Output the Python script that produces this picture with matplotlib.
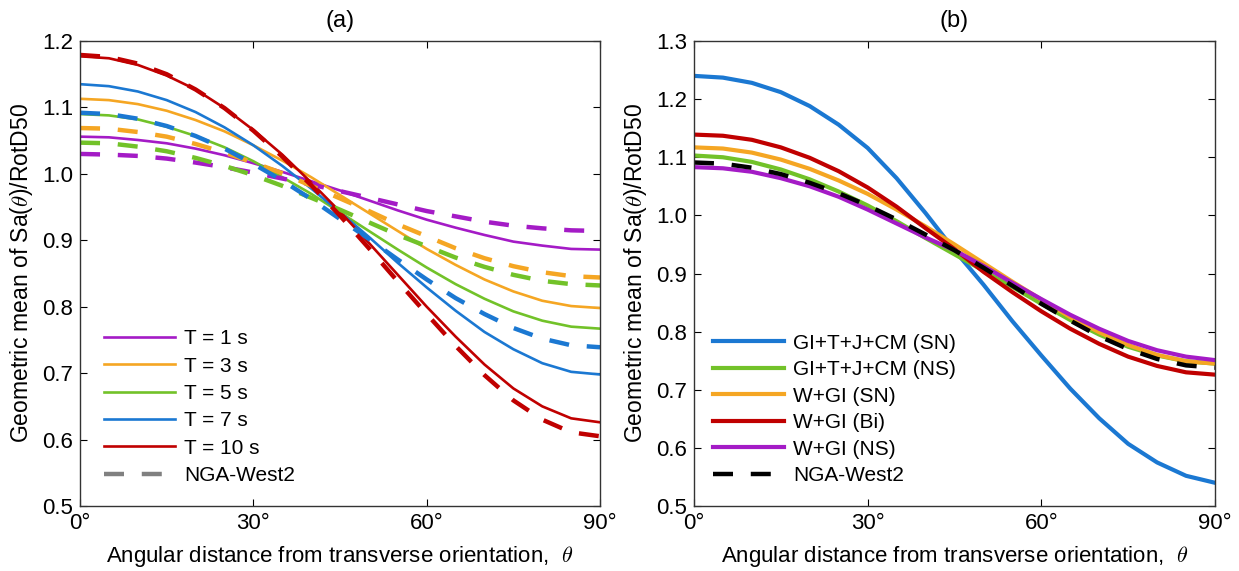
import numpy as np
import matplotlib.pyplot as plt

plt.rcParams['font.family'] = ['Liberation Sans', 'DejaVu Sans']
plt.rcParams['mathtext.fontset'] = 'cm'

theta = [0, 5, 10, 15, 20, 25, 30, 35, 40, 45, 50, 55, 60, 65, 70, 75, 80, 85, 90]

# panel (a): simulated (solid) and NGA-West2 (dashed) per period
periods = ['T = 1 s', 'T = 3 s', 'T = 5 s', 'T = 7 s', 'T = 10 s']
sim_T1 = [1.056, 1.055, 1.051, 1.046, 1.038, 1.028, 1.016, 1.003, 0.989, 0.975, 0.960, 0.945,
          0.931, 0.919, 0.908, 0.898, 0.892, 0.887, 0.886]
sim_T3 = [1.113, 1.111, 1.105, 1.095, 1.081, 1.064, 1.043, 1.020, 0.995, 0.968, 0.941, 0.914,
          0.887, 0.863, 0.841, 0.823, 0.809, 0.801, 0.798]
sim_T5 = [1.090, 1.088, 1.082, 1.071, 1.057, 1.040, 1.019, 0.995, 0.970, 0.942, 0.914, 0.886,
          0.859, 0.834, 0.812, 0.793, 0.779, 0.770, 0.767]
sim_T7 = [1.135, 1.132, 1.124, 1.111, 1.093, 1.070, 1.043, 1.012, 0.978, 0.942, 0.905, 0.866,
          0.829, 0.794, 0.762, 0.736, 0.715, 0.702, 0.698]
sim_T10 = [1.177, 1.174, 1.164, 1.148, 1.127, 1.099, 1.066, 1.029, 0.987, 0.943, 0.896, 0.848,
           0.800, 0.755, 0.713, 0.677, 0.650, 0.632, 0.626]
nga_T1 = [1.030, 1.029, 1.027, 1.023, 1.017, 1.010, 1.002, 0.993, 0.984, 0.974, 0.964, 0.954,
          0.944, 0.936, 0.928, 0.922, 0.918, 0.915, 0.914]
nga_T3 = [1.069, 1.068, 1.063, 1.056, 1.045, 1.032, 1.017, 1.001, 0.982, 0.963, 0.944, 0.924,
          0.906, 0.888, 0.873, 0.861, 0.852, 0.846, 0.844]
nga_T5 = [1.047, 1.046, 1.041, 1.034, 1.024, 1.012, 0.998, 0.982, 0.964, 0.946, 0.927, 0.908,
          0.891, 0.874, 0.860, 0.848, 0.839, 0.834, 0.832]
nga_T7 = [1.092, 1.090, 1.083, 1.072, 1.057, 1.038, 1.015, 0.990, 0.962, 0.932, 0.902, 0.871,
          0.841, 0.813, 0.789, 0.768, 0.752, 0.742, 0.739]
nga_T10 = [1.179, 1.176, 1.166, 1.150, 1.127, 1.099, 1.065, 1.026, 0.983, 0.937, 0.888, 0.838,
           0.789, 0.741, 0.697, 0.659, 0.630, 0.611, 0.605]

# panel (b): rupture scenarios
scen_names = ['GI+T+J+CM (SN)', 'GI+T+J+CM (NS)', 'W+GI (SN)', 'W+GI (Bi)', 'W+GI (NS)']
gitjcm_sn = [1.240, 1.237, 1.228, 1.212, 1.188, 1.156, 1.116, 1.064, 1.004, 0.940, 0.881, 0.818,
             0.759, 0.702, 0.651, 0.607, 0.575, 0.552, 0.540]
gitjcm_ns = [1.103, 1.100, 1.092, 1.079, 1.062, 1.041, 1.017, 0.990, 0.961, 0.933, 0.905, 0.877,
             0.848, 0.820, 0.795, 0.774, 0.759, 0.749, 0.745]
wgi_sn = [1.117, 1.115, 1.108, 1.096, 1.080, 1.060, 1.037, 1.010, 0.981, 0.950, 0.918, 0.886,
          0.855, 0.825, 0.799, 0.777, 0.760, 0.749, 0.745]
wgi_bi = [1.139, 1.137, 1.130, 1.117, 1.099, 1.076, 1.048, 1.015, 0.978, 0.942, 0.903, 0.868,
          0.835, 0.805, 0.779, 0.757, 0.741, 0.730, 0.726]
wgi_ns = [1.083, 1.081, 1.075, 1.064, 1.050, 1.032, 1.010, 0.986, 0.962, 0.940, 0.913, 0.884,
          0.856, 0.829, 0.805, 0.784, 0.768, 0.757, 0.751]
nga_b = [1.091, 1.089, 1.082, 1.071, 1.056, 1.038, 1.017, 0.993, 0.967, 0.940, 0.910, 0.879,
         0.848, 0.819, 0.792, 0.770, 0.753, 0.742, 0.738]

colors = ['#A41BC6', '#F5A623', '#72C229', '#1B78D2', '#C00000']
scen_colors = ['#1B78D2', '#72C229', '#F5A623', '#C00000', '#A41BC6']

ylab = r'Geometric mean of Sa($\theta$)/RotD50'
xlab = r'Angular distance from transverse orientation,  $\theta$'
dash = (0, (4.5, 4.0))


def styleAxis(ax, ylim, yticks):
    ax.set_xlim(0, 90)
    ax.set_ylim(*ylim)
    ax.set_xticks([0, 30, 60, 90])
    ax.set_xticklabels(['0°', '30°', '60°', '90°'])
    ax.set_yticks(yticks)
    ax.set_yticklabels(['%.1f' % t for t in yticks])
    ax.tick_params(direction='in', top=True, right=True, labelsize=16, length=5, pad=5)
    for s in ax.spines.values():
        s.set_color('#333333')
        s.set_linewidth(1.0)
    ax.set_xlabel(xlab, fontsize=16, labelpad=7)
    ax.set_ylabel(ylab, fontsize=16.5, labelpad=5)


fig = plt.figure(figsize=(12.39, 5.71), dpi=100)
ax1 = fig.add_axes([0.0646, 0.1138, 0.4197, 0.8144])
ax2 = fig.add_axes([0.5601, 0.1138, 0.4205, 0.8144])

sims = [sim_T1, sim_T3, sim_T5, sim_T7, sim_T10]
ngas = [nga_T1, nga_T3, nga_T5, nga_T7, nga_T10]
for name, c, s in zip(periods, colors, sims):
    ax1.plot(theta, s, color=c, linewidth=1.9, label=name)
for c, n in zip(colors, ngas):
    ax1.plot(theta, n, color=c, linewidth=3.2, linestyle=dash)
ax1.plot([], [], color='#808080', linewidth=3.2, linestyle=dash, label='NGA-West2')
styleAxis(ax1, (0.5, 1.2), np.arange(0.5, 1.21, 0.1))
ax1.set_title('(a)', fontsize=17, pad=10)
ax1.legend(loc='lower left', bbox_to_anchor=(0.046, 0.045), fontsize=15, frameon=False,
           borderpad=0, borderaxespad=0,
           handlelength=3.4, handletextpad=0.45, labelspacing=0.4)

scen = [gitjcm_sn, gitjcm_ns, wgi_sn, wgi_bi, wgi_ns]
for name, c, s in zip(scen_names, scen_colors, scen):
    ax2.plot(theta, s, color=c, linewidth=3.0, label=name)
ax2.plot(theta, nga_b, color='black', linewidth=3.2, linestyle=dash, label='NGA-West2')
styleAxis(ax2, (0.5, 1.3), np.arange(0.5, 1.31, 0.1))
ax2.set_title('(b)', fontsize=17, pad=10)
ax2.legend(loc='lower left', bbox_to_anchor=(0.036, 0.045), fontsize=15, frameon=False,
           borderpad=0, borderaxespad=0,
           handlelength=3.4, handletextpad=0.45, labelspacing=0.36)

plt.savefig('out.png', dpi=100)
plt.close()
